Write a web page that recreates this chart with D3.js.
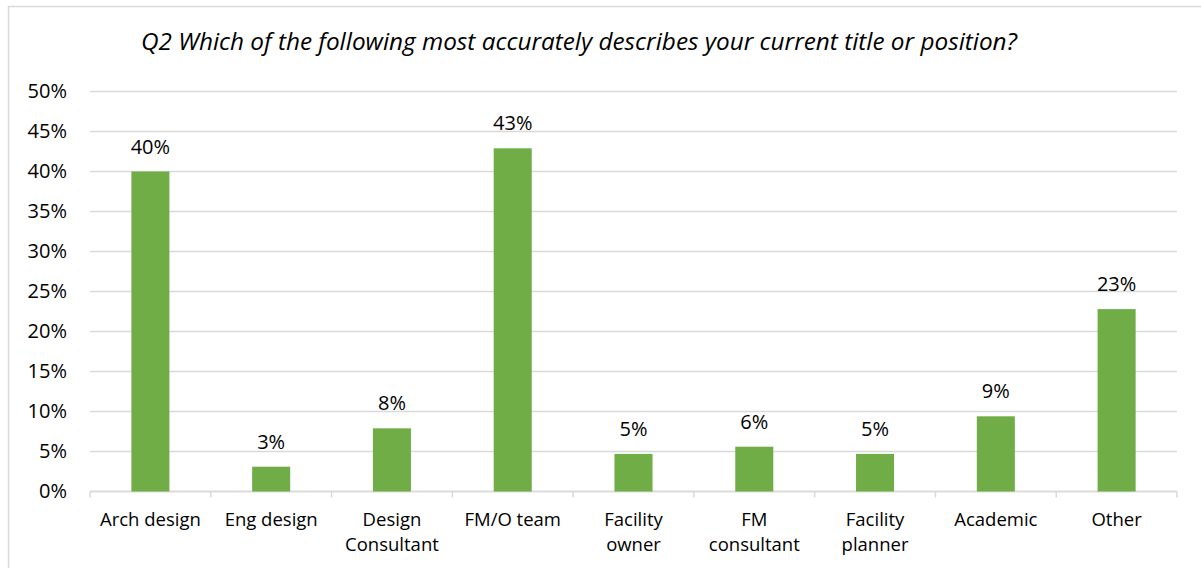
<!DOCTYPE html>
<html>
<head>
<meta charset="utf-8">
<script src="https://cdn.jsdelivr.net/npm/d3@7/dist/d3.min.js"></script>
<style>
  html, body { margin: 0; padding: 0; background: #fff; }
  svg { display: block; }
  text { font-family: "Open Sans", Lato, sans-serif; fill: #000; }
</style>
</head>
<body>
<svg id="chart" width="1201" height="568"></svg>
<script>
// Survey responses: Q2 current title or position
const categories = [
  ["Arch design"],
  ["Eng design"],
  ["Design", "Consultant"],
  ["FM/O team"],
  ["Facility", "owner"],
  ["FM", "consultant"],
  ["Facility", "planner"],
  ["Academic"],
  ["Other"]
];
const shares = [0.40, 0.031, 0.079, 0.429, 0.047, 0.056, 0.047, 0.094, 0.228];
const yTicks = [0, 0.05, 0.10, 0.15, 0.20, 0.25, 0.30, 0.35, 0.40, 0.45, 0.50];
const title = "Q2 Which of the following most accurately describes your current title or position?";

const svg = d3.select("#chart");
const W = 1201, H = 568;
const plot = { left: 90, right: 1177, top: 91.5, bottom: 491.5 };
const pct = d3.format(".0%");
const FONT = "'Open Sans', Lato, sans-serif";

// chart frame
svg.append("rect")
  .attr("x", 8.5).attr("y", 6.5)
  .attr("width", W + 10).attr("height", H + 10)
  .attr("fill", "none").attr("stroke", "#d9d9d9").attr("stroke-width", 1.5);

const keys = categories.map(c => c.join(" "));
const x = d3.scaleBand()
  .domain(keys)
  .range([plot.left, plot.right])
  .paddingInner(0.685)
  .paddingOuter(0.3425);

const y = d3.scaleLinear().domain([0, 0.5]).range([plot.bottom, plot.top]);

// horizontal gridlines
svg.append("g")
  .selectAll("line")
  .data(yTicks)
  .join("line")
  .attr("x1", plot.left).attr("x2", plot.right)
  .attr("y1", d => y(d)).attr("y2", d => y(d))
  .attr("stroke", "#d9d9d9").attr("stroke-width", 1.5);

// y axis labels
const yAxis = d3.axisLeft(y).tickValues(yTicks).tickFormat(pct).tickSize(0).tickPadding(23);
const gy = svg.append("g").attr("transform", `translate(${plot.left},0)`).call(yAxis);
gy.select(".domain").remove();
gy.selectAll("text")
  .style("font-family", FONT)
  .attr("font-size", 20).attr("fill", "#000");

// x axis baseline with category separators
const band = x.step();
const boundaries = d3.range(categories.length + 1).map(i => plot.left + i * band);
const gx = svg.append("g");
gx.append("line")
  .attr("x1", plot.left).attr("x2", plot.right)
  .attr("y1", y(0)).attr("y2", y(0))
  .attr("stroke", "#d9d9d9").attr("stroke-width", 1.5);
gx.selectAll("line.sep")
  .data(boundaries)
  .join("line").attr("class", "sep")
  .attr("x1", d => d).attr("x2", d => d)
  .attr("y1", y(0)).attr("y2", y(0) + 6)
  .attr("stroke", "#d9d9d9").attr("stroke-width", 1.5);

// category labels
const labels = svg.append("g")
  .selectAll("text")
  .data(categories)
  .join("text")
  .attr("text-anchor", "middle")
  .attr("font-size", 18.5)
  .attr("transform", d => `translate(${x(d.join(" ")) + x.bandwidth() / 2},${y(0) + 34})`);
labels.selectAll("tspan")
  .data(d => d)
  .join("tspan")
  .attr("x", 0)
  .attr("dy", (d, i) => i === 0 ? 0 : 25)
  .text(d => d);

// bars
svg.append("g")
  .selectAll("rect")
  .data(shares)
  .join("rect")
  .attr("x", (d, i) => x(keys[i]))
  .attr("width", x.bandwidth())
  .attr("y", d => y(d))
  .attr("height", d => y(0) - y(d))
  .attr("fill", "#70ad47");

// value labels
svg.append("g")
  .selectAll("text")
  .data(shares)
  .join("text")
  .attr("text-anchor", "middle")
  .attr("font-size", 20)
  .attr("x", (d, i) => x(keys[i]) + x.bandwidth() / 2)
  .attr("y", d => y(d) - 18)
  .text(d => pct(d));

// title
svg.append("text")
  .attr("x", 579)
  .attr("y", 50)
  .attr("text-anchor", "middle")
  .attr("font-size", 24.3)
  .attr("font-style", "italic")
  .text(title);
</script>
</body>
</html>
